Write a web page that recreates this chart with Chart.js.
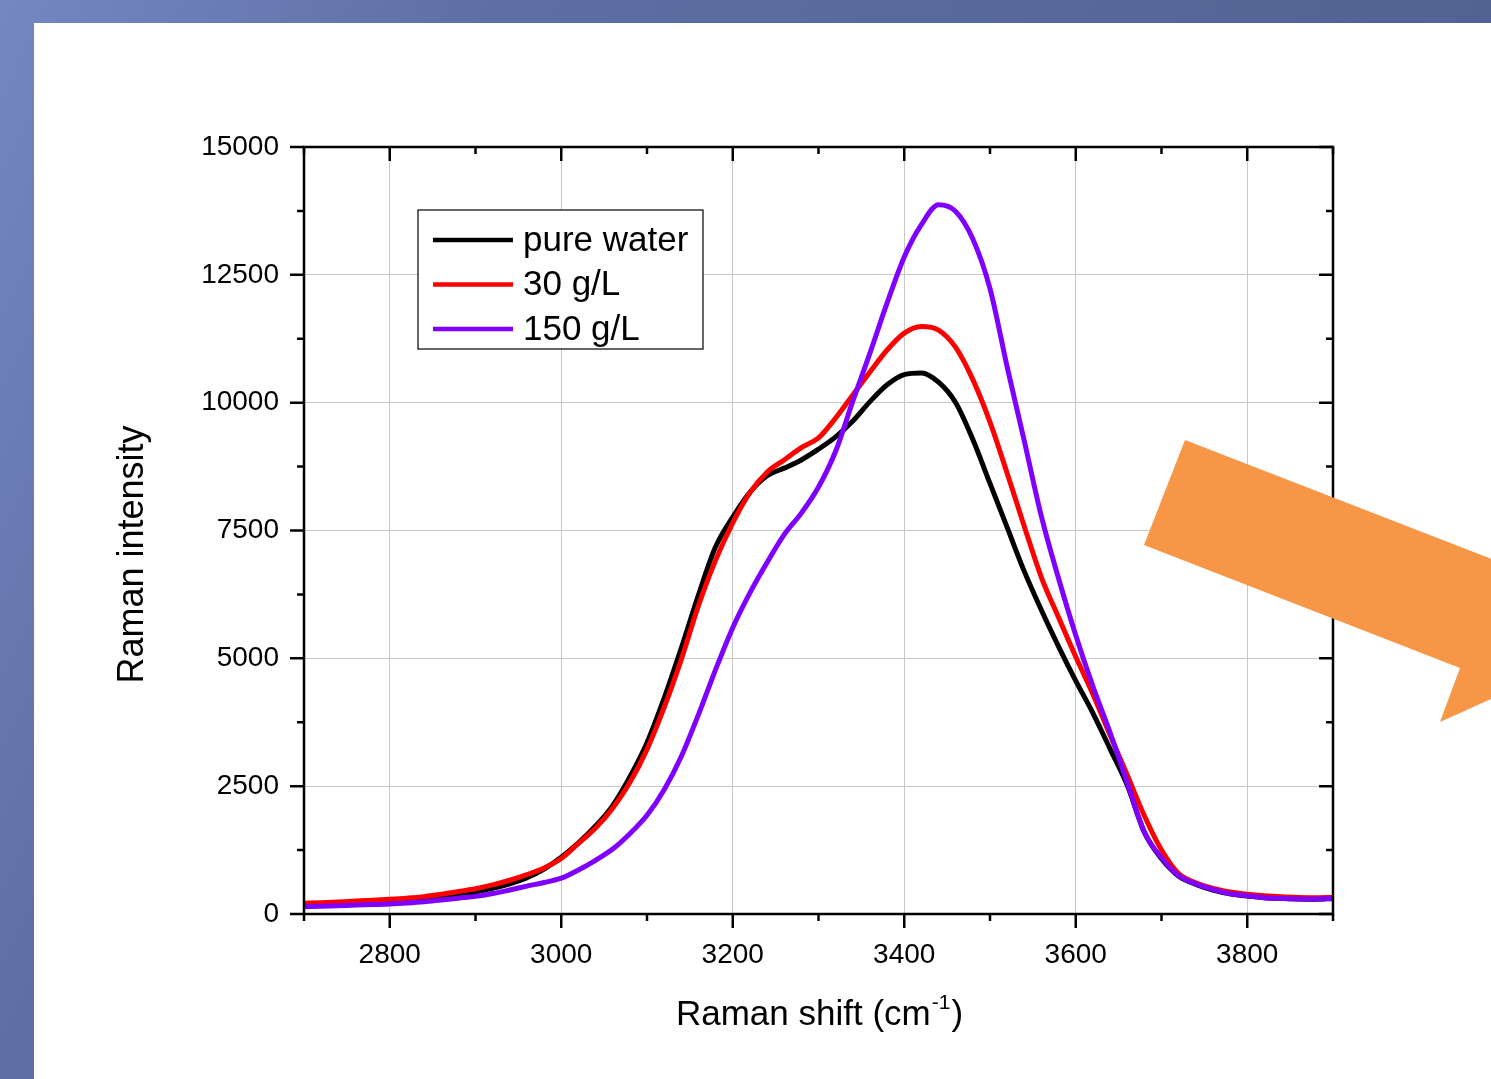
<!DOCTYPE html>
<html>
<head>
<meta charset="utf-8">
<title>Raman spectra</title>
<script src="https://cdn.jsdelivr.net/npm/chart.js@4.4.1/dist/chart.umd.min.js"></script>
<style>
  body {
    margin: 0;
    width: 1491px;
    height: 1079px;
    overflow: hidden;
    background: linear-gradient(115deg, #7587c1 0%, #5d6fa3 25%, #4d5c8a 100%);
  }
  #slide {
    position: absolute;
    left: 34px;
    top: 23px;
    width: 1457px;
    height: 1056px;
    background: #ffffff;
  }
</style>
</head>
<body>
<div id="slide">
  <canvas id="ramanChart" width="1457" height="1056"></canvas>
</div>
<script>
// Raman shift in cm-1
var ramanShift = [2700, 2720, 2740, 2760, 2780, 2800, 2820, 2840, 2860, 2880,
  2900, 2920, 2940, 2960, 2980, 3000, 3020, 3040, 3060, 3080,
  3100, 3120, 3140, 3160, 3180, 3200, 3220, 3240, 3260, 3280,
  3300, 3320, 3340, 3360, 3380, 3400, 3420, 3440, 3460, 3480,
  3500, 3520, 3540, 3560, 3580, 3600, 3620, 3640, 3660, 3680,
  3700, 3720, 3740, 3760, 3780, 3800, 3820, 3840, 3860, 3880, 3900];

var pureWater = [175, 185, 195, 208, 222, 240, 262, 290, 325, 370,
  430, 500, 590, 710, 880, 1110, 1390, 1720, 2120, 2680,
  3350, 4220, 5200, 6240, 7180, 7760, 8245, 8570, 8720, 8880,
  9090, 9330, 9640, 10020, 10350, 10550, 10580, 10400, 10000, 9280,
  8420, 7560, 6700, 5940, 5230, 4560, 3930, 3230, 2520, 1600,
  1080, 740, 580, 470, 395, 350, 320, 305, 295, 290, 300];

var salt30 = [210, 222, 236, 252, 268, 287, 310, 340, 385, 440,
  495, 570, 660, 770, 900, 1085, 1380, 1680, 2070, 2570,
  3220, 4040, 4980, 6030, 6920, 7650, 8240, 8640, 8880, 9120,
  9310, 9700, 10150, 10600, 11030, 11360, 11490, 11420, 11080, 10450,
  9620, 8620, 7580, 6580, 5800, 5030, 4300, 3500, 2720, 1920,
  1250, 790, 610, 500, 430, 385, 355, 335, 325, 320, 325];

var salt150 = [143, 152, 163, 175, 185, 196, 215, 240, 275, 310,
  345, 400, 470, 545, 615, 700, 860, 1050, 1270, 1570,
  1930, 2430, 3080, 3900, 4780, 5600, 6280, 6875, 7420, 7840,
  8350, 9050, 10030, 10970, 11950, 12850, 13480, 13870, 13740, 13200,
  12230, 10700, 9250, 7770, 6560, 5450, 4450, 3550, 2570, 1600,
  1100, 750, 590, 480, 395, 355, 320, 305, 295, 295, 305];

var seriesNames = ['pure water', '30 g/L', '150 g/L'];
var seriesColors = ['#000000', '#ff0000', '#7f00ff'];

var xTicks = [2800, 3000, 3200, 3400, 3600, 3800];
var yTicks = [0, 2500, 5000, 7500, 10000, 12500, 15000];

var FONT = "'Liberation Sans', Arial, sans-serif";

function toPoints(ys) {
  return ramanShift.map(function (x, i) { return { x: x, y: ys[i] }; });
}

// frame, ticks, titles, legend and the arrow of the slide
var originStyle = {
  id: 'originStyle',
  afterDraw: function (chart) {
    var ctx = chart.ctx;
    var a = chart.chartArea;
    var xs = chart.scales.x, ys = chart.scales.y;
    var major = 14, minor = 7;

    ctx.save();
    ctx.strokeStyle = '#000';
    ctx.lineWidth = 2.5;
    ctx.strokeRect(a.left, a.top, a.right - a.left, a.bottom - a.top);

    ctx.beginPath();
    // x ticks: majors at labels, minors half way
    var xMinor = [xTicks[0] - 100].concat(xTicks.map(function (v) { return v + 100; }));
    xTicks.forEach(function (v) {
      var px = xs.getPixelForValue(v);
      ctx.moveTo(px, a.bottom); ctx.lineTo(px, a.bottom + major);
      ctx.moveTo(px, a.top); ctx.lineTo(px, a.top + major);
    });
    xMinor.forEach(function (v) {
      var px = xs.getPixelForValue(v);
      ctx.moveTo(px, a.bottom); ctx.lineTo(px, a.bottom + minor);
      ctx.moveTo(px, a.top); ctx.lineTo(px, a.top + minor);
    });
    yTicks.forEach(function (v, i) {
      var py = ys.getPixelForValue(v);
      ctx.moveTo(a.left, py); ctx.lineTo(a.left - major, py);
      ctx.moveTo(a.right, py); ctx.lineTo(a.right - major, py);
      if (i < yTicks.length - 1) {
        var pm = ys.getPixelForValue(v + 1250);
        ctx.moveTo(a.left, pm); ctx.lineTo(a.left - minor, pm);
        ctx.moveTo(a.right, pm); ctx.lineTo(a.right - minor, pm);
      }
    });
    ctx.stroke();

    // axis titles
    ctx.fillStyle = '#000';
    ctx.textBaseline = 'alphabetic';
    var main = 'Raman shift (cm', sup = '-1', close = ')';
    ctx.font = '35px ' + FONT;
    var w1 = ctx.measureText(main).width, w3 = ctx.measureText(close).width;
    ctx.font = '21px ' + FONT;
    var w2 = ctx.measureText(sup).width;
    var cx = (a.left + a.right) / 2;
    var x0 = cx - (w1 + w2 + w3) / 2;
    var base = a.bottom + 111;
    ctx.textAlign = 'left';
    ctx.font = '35px ' + FONT;
    ctx.fillText(main, x0, base);
    ctx.font = '21px ' + FONT;
    ctx.fillText(sup, x0 + w1 + 1, base - 16);
    ctx.font = '35px ' + FONT;
    ctx.fillText(close, x0 + w1 + w2 + 2, base);

    ctx.save();
    ctx.translate(a.left - 161, (a.top + a.bottom) / 2 + 24);
    ctx.rotate(-Math.PI / 2);
    ctx.textAlign = 'center';
    ctx.font = '36px ' + FONT;
    ctx.fillText('Raman intensity', 0, 0);
    ctx.restore();

    // legend box
    var bx = a.left + 114, by = a.top + 63, bw = 285, bh = 139;
    ctx.fillStyle = '#fff';
    ctx.fillRect(bx, by, bw, bh);
    ctx.lineWidth = 1.2;
    ctx.strokeStyle = '#000';
    ctx.strokeRect(bx, by, bw, bh);
    ctx.font = '35px ' + FONT;
    ctx.textAlign = 'left';
    ctx.textBaseline = 'middle';
    seriesNames.forEach(function (name, i) {
      var ry = by + 30 + i * 44.5;
      ctx.strokeStyle = seriesColors[i];
      ctx.lineWidth = 4.5;
      ctx.beginPath();
      ctx.moveTo(bx + 15, ry); ctx.lineTo(bx + 95, ry);
      ctx.stroke();
      ctx.fillStyle = '#000';
      ctx.fillText(name, bx + 105, ry + 1);
    });

    // orange arrow drawn on the slide
    ctx.fillStyle = '#f79646';
    ctx.beginPath();
    ctx.moveTo(1151, 417);
    ctx.lineTo(1566, 578);
    ctx.lineTo(1566, 627);
    ctx.lineTo(1406, 699);
    ctx.lineTo(1426, 645);
    ctx.lineTo(1110, 522);
    ctx.closePath();
    ctx.fill();
    ctx.restore();
  }
};

var ctx = document.getElementById('ramanChart').getContext('2d');
var ramanChart = new Chart(ctx, {
  type: 'line',
  data: {
    datasets: [
      { label: seriesNames[0], data: toPoints(pureWater), borderColor: seriesColors[0], borderWidth: 5, order: 3 },
      { label: seriesNames[1], data: toPoints(salt30), borderColor: seriesColors[1], borderWidth: 5, order: 2 },
      { label: seriesNames[2], data: toPoints(salt150), borderColor: seriesColors[2], borderWidth: 5, order: 1 }
    ]
  },
  options: {
    responsive: false,
    animation: false,
    devicePixelRatio: 1,
    layout: { padding: { top: 124, right: 158, left: 0, bottom: 0 } },
    elements: {
      point: { radius: 0 },
      line: { borderWidth: 5, cubicInterpolationMode: 'monotone', fill: false }
    },
    plugins: {
      legend: { display: false },
      tooltip: { enabled: false }
    },
    scales: {
      x: {
        type: 'linear',
        min: 2700,
        max: 3900,
        afterBuildTicks: function (scale) {
          scale.ticks = xTicks.map(function (v) { return { value: v }; });
        },
        afterFit: function (scale) { scale.height = 165; },
        grid: { color: '#c8c8c8', lineWidth: 1, drawTicks: false },
        border: { display: false },
        ticks: {
          color: '#000',
          padding: 24,
          maxRotation: 0,
          callback: function (v) { return String(v); },
          font: { size: 28, family: FONT }
        }
      },
      y: {
        min: 0,
        max: 15000,
        afterBuildTicks: function (scale) {
          scale.ticks = yTicks.map(function (v) { return { value: v }; });
        },
        afterFit: function (scale) { scale.width = 270; },
        grid: { color: '#c8c8c8', lineWidth: 1, drawTicks: false },
        border: { display: false },
        ticks: {
          color: '#000',
          padding: 25,
          callback: function (v) { return String(v); },
          font: { size: 28, family: FONT }
        }
      }
    }
  },
  plugins: [originStyle]
});
</script>
</body>
</html>
